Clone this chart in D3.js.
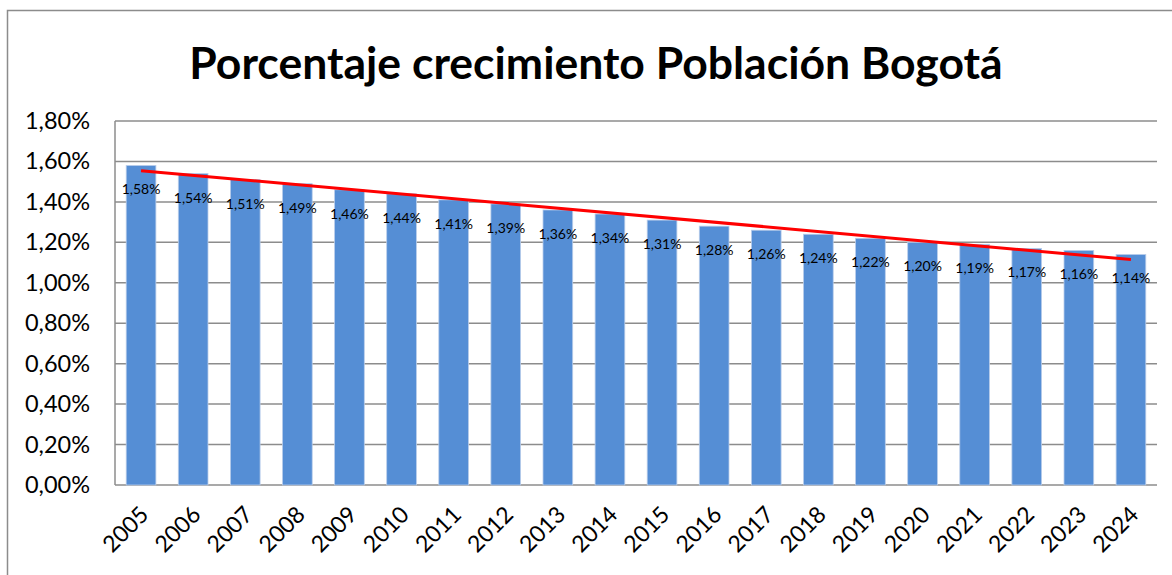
<!DOCTYPE html>
<html>
<head>
<meta charset="utf-8">
<script src="https://cdn.jsdelivr.net/npm/d3@7"></script>
<style>
  body { margin: 0; background: #fff; }
  svg { display: block; font-family: Lato, "Open Sans", sans-serif; }
</style>
</head>
<body>
<svg width="1172" height="575"></svg>
<script>
//data
const years = ["2005", "2006", "2007", "2008", "2009", "2010", "2011", "2012", "2013", "2014",
               "2015", "2016", "2017", "2018", "2019", "2020", "2021", "2022", "2023", "2024"];
const growth = [1.58, 1.54, 1.51, 1.49, 1.46, 1.44, 1.41, 1.39, 1.36, 1.34,
                1.31, 1.28, 1.26, 1.24, 1.22, 1.20, 1.19, 1.17, 1.16, 1.14];
const yTicks = [0, 0.2, 0.4, 0.6, 0.8, 1.0, 1.2, 1.4, 1.6, 1.8];

//constants
const plot = {left: 115, top: 121, right: 1157, bottom: 485};
const fmt = v => v.toFixed(2).replace(".", ",") + "%";

const svg = d3.select("svg");

//chart frame
svg.append("rect")
    .attr("x", 7.5).attr("y", 10.5)
    .attr("width", 1250).attr("height", 650)
    .attr("fill", "#fff")
    .attr("stroke", "#8c8c8c")
    .attr("stroke-width", 1.5);

//scales
const x = d3.scaleBand()
    .domain(years)
    .range([plot.left, plot.right])
    .paddingInner(0.43)
    .paddingOuter(0.215);

const y = d3.scaleLinear()
    .domain([0, 1.8])
    .range([plot.bottom, plot.top]);

//title
svg.append("text")
    .attr("x", 596)
    .attr("y", 79)
    .attr("text-anchor", "middle")
    .style("font-size", "44.5px")
    .style("font-weight", "bold")
    .text("Porcentaje crecimiento Población Bogotá");

//grid
svg.append("g")
    .selectAll("line")
    .data(yTicks)
    .enter()
    .append("line")
    .attr("x1", plot.left)
    .attr("x2", plot.right)
    .attr("y1", d => y(d))
    .attr("y2", d => y(d))
    .attr("stroke", "#8c8c8c")
    .attr("stroke-width", 1.5);

svg.append("line")
    .attr("x1", plot.left).attr("x2", plot.left)
    .attr("y1", plot.top).attr("y2", plot.bottom)
    .attr("stroke", "#8c8c8c")
    .attr("stroke-width", 1.5);

//y axis labels
const gY = svg.append("g")
    .attr("transform", "translate(" + plot.left + ",0)")
    .call(d3.axisLeft(y).tickValues(yTicks).tickFormat(fmt).tickSize(0).tickPadding(25));
gY.select(".domain").remove();
gY.selectAll("text")
    .style("font-size", "23.5px")
    .style("font-family", "Lato, sans-serif")
    .attr("fill", "#000");

//x axis labels
const gX = svg.append("g")
    .attr("transform", "translate(0," + plot.bottom + ")")
    .call(d3.axisBottom(x).tickSize(0));
gX.select(".domain").remove();
gX.selectAll("text")
    .style("font-size", "23px")
    .style("font-family", "Lato, sans-serif")
    .attr("fill", "#000")
    .attr("text-anchor", "end")
    .attr("dy", 0)
    .attr("transform", "translate(9,31) rotate(-45)")
    .attr("y", 0);

//bars
svg.append("g")
    .selectAll("rect")
    .data(growth)
    .enter()
    .append("rect")
    .attr("x", (d, i) => x(years[i]))
    .attr("y", d => y(d))
    .attr("width", x.bandwidth())
    .attr("height", d => y(0) - y(d))
    .attr("fill", "#558ed5")
    .attr("stroke", "#b9cdea")
    .attr("stroke-width", 0.8);

//data labels
svg.append("g")
    .selectAll("text")
    .data(growth)
    .enter()
    .append("text")
    .attr("x", (d, i) => x(years[i]) + x.bandwidth() / 2)
    .attr("y", d => y(d) + 29)
    .attr("text-anchor", "middle")
    .style("font-size", "14px")
    .text(fmt);

//linear trend
const idx = growth.map((d, i) => i);
const mx = d3.mean(idx), my = d3.mean(growth);
const slope = d3.sum(idx, i => (i - mx) * (growth[i] - my)) / d3.sum(idx, i => (i - mx) * (i - mx));
const icpt = my - slope * mx;

svg.append("path")
    .datum(idx)
    .attr("d", d3.line()
        .x(i => x(years[i]) + x.bandwidth() / 2)
        .y(i => y(icpt + slope * i))(
            [0, idx.length - 1]))
    .attr("fill", "none")
    .attr("stroke", "#ff0000")
    .attr("stroke-width", 3);
</script>
</body>
</html>
